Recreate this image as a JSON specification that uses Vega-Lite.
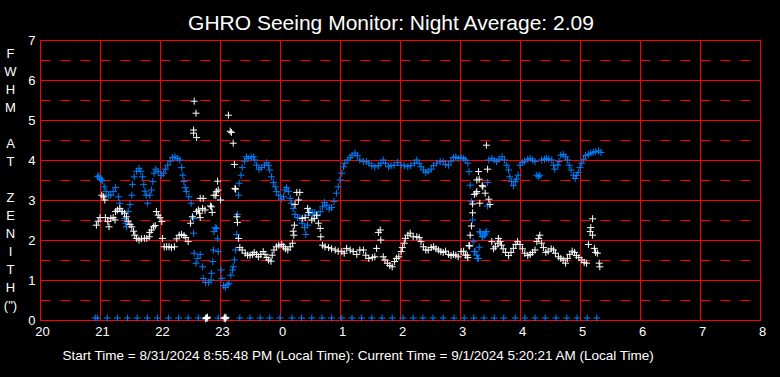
{
"$schema": "https://vega.github.io/schema/vega-lite/v6.json",
"width": 720, "height": 280,
"autosize": {"type": "none"},
"padding": {"left": 40, "top": 40, "right": 20, "bottom": 57},
"background": "#000000",
"config": {"view": {"stroke": "#FF0000", "strokeWidth": 1}, "font": "Liberation Sans"},
"title": {"text": "GHRO Seeing Monitor: Night Average: 2.09", "color": "#FFFFFF", "fontSize": 21, "fontWeight": "normal", "font": "Liberation Sans", "anchor": "middle", "frame": "group", "dx": -9, "dy": 21, "baseline": "alphabetic", "offset": 4},
"data": {"values": [
{"t":0.92,"v":0.05,"s":"b"},{"t":0.96,"v":0.05,"s":"b"},{"t":1.12,"v":0.05,"s":"b"},{"t":1.29,"v":0.05,"s":"b"},{"t":1.46,"v":0.05,"s":"b"},{"t":1.62,"v":0.05,"s":"b"},{"t":1.79,"v":0.05,"s":"b"},{"t":1.96,"v":0.05,"s":"b"},{"t":2.14,"v":0.05,"s":"b"},{"t":2.31,"v":0.05,"s":"b"},{"t":2.47,"v":0.05,"s":"b"},{"t":2.64,"v":0.05,"s":"b"},{"t":2.79,"v":0.05,"s":"b"},{"t":2.97,"v":0.05,"s":"b"},{"t":3.08,"v":0.05,"s":"b"},{"t":3.33,"v":0.05,"s":"b"},{"t":3.5,"v":0.05,"s":"b"},{"t":3.67,"v":0.05,"s":"b"},{"t":3.83,"v":0.05,"s":"b"},{"t":4.0,"v":0.05,"s":"b"},{"t":4.2,"v":0.05,"s":"b"},{"t":4.36,"v":0.05,"s":"b"},{"t":4.53,"v":0.05,"s":"b"},{"t":4.7,"v":0.05,"s":"b"},{"t":4.86,"v":0.05,"s":"b"},{"t":5.03,"v":0.05,"s":"b"},{"t":5.2,"v":0.05,"s":"b"},{"t":5.36,"v":0.05,"s":"b"},{"t":5.53,"v":0.05,"s":"b"},{"t":5.7,"v":0.05,"s":"b"},{"t":5.87,"v":0.05,"s":"b"},{"t":6.05,"v":0.05,"s":"b"},{"t":6.22,"v":0.05,"s":"b"},{"t":6.38,"v":0.05,"s":"b"},{"t":6.55,"v":0.05,"s":"b"},{"t":6.72,"v":0.05,"s":"b"},{"t":6.9,"v":0.05,"s":"b"},{"t":7.07,"v":0.05,"s":"b"},{"t":7.23,"v":0.05,"s":"b"},{"t":7.4,"v":0.05,"s":"b"},{"t":7.57,"v":0.05,"s":"b"},{"t":7.73,"v":0.05,"s":"b"},{"t":7.92,"v":0.05,"s":"b"},{"t":8.08,"v":0.05,"s":"b"},{"t":8.25,"v":0.05,"s":"b"},{"t":8.42,"v":0.05,"s":"b"},{"t":8.6,"v":0.05,"s":"b"},{"t":8.78,"v":0.05,"s":"b"},{"t":8.95,"v":0.05,"s":"b"},{"t":9.12,"v":0.05,"s":"b"},{"t":9.28,"v":0.05,"s":"b"},
{"t":0.96,"v":3.58,"s":"b"},{"t":0.98,"v":3.6,"s":"b"},{"t":1.0,"v":3.54,"s":"b"},{"t":1.02,"v":3.5,"s":"b"},{"t":1.04,"v":3.48,"s":"b"},{"t":1.07,"v":3.33,"s":"b"},{"t":1.1,"v":3.21,"s":"b"},{"t":1.14,"v":3.12,"s":"b"},{"t":1.18,"v":3.12,"s":"b"},{"t":1.22,"v":3.21,"s":"b"},{"t":1.26,"v":3.31,"s":"b"},{"t":1.31,"v":3.08,"s":"b"},{"t":1.33,"v":2.92,"s":"b"},{"t":1.36,"v":2.71,"s":"b"},{"t":1.41,"v":2.54,"s":"b"},{"t":1.43,"v":2.42,"s":"b"},{"t":1.44,"v":2.33,"s":"b"},{"t":1.47,"v":2.71,"s":"b"},{"t":1.5,"v":2.89,"s":"b"},{"t":1.53,"v":3.12,"s":"b"},{"t":1.54,"v":3.39,"s":"b"},{"t":1.57,"v":3.58,"s":"b"},{"t":1.61,"v":3.72,"s":"b"},{"t":1.65,"v":3.79,"s":"b"},{"t":1.68,"v":3.72,"s":"b"},{"t":1.71,"v":3.58,"s":"b"},{"t":1.73,"v":3.39,"s":"b"},{"t":1.75,"v":3.22,"s":"b"},{"t":1.77,"v":3.12,"s":"b"},{"t":1.79,"v":2.92,"s":"b"},{"t":1.83,"v":3.12,"s":"b"},{"t":1.86,"v":3.25,"s":"b"},{"t":1.88,"v":3.46,"s":"b"},{"t":1.9,"v":3.67,"s":"b"},{"t":1.93,"v":3.77,"s":"b"},{"t":1.97,"v":3.71,"s":"b"},{"t":2.02,"v":3.61,"s":"b"},{"t":2.06,"v":3.67,"s":"b"},{"t":2.09,"v":3.77,"s":"b"},{"t":2.13,"v":3.87,"s":"b"},{"t":2.17,"v":3.97,"s":"b"},{"t":2.21,"v":4.06,"s":"b"},{"t":2.25,"v":4.08,"s":"b"},{"t":2.29,"v":4.04,"s":"b"},{"t":2.33,"v":4.0,"s":"b"},{"t":2.36,"v":3.81,"s":"b"},{"t":2.38,"v":3.62,"s":"b"},{"t":2.4,"v":3.46,"s":"b"},{"t":2.42,"v":3.31,"s":"b"},{"t":2.44,"v":3.21,"s":"b"},{"t":2.48,"v":3.08,"s":"b"},{"t":2.52,"v":2.92,"s":"b"},{"t":2.56,"v":2.54,"s":"b"},{"t":2.56,"v":2.17,"s":"b"},{"t":2.57,"v":1.67,"s":"b"},{"t":2.6,"v":1.42,"s":"b"},{"t":2.63,"v":1.54,"s":"b"},{"t":2.67,"v":1.64,"s":"b"},{"t":2.71,"v":1.33,"s":"b"},{"t":2.72,"v":1.04,"s":"b"},{"t":2.76,"v":0.94,"s":"b"},{"t":2.81,"v":0.94,"s":"b"},{"t":2.85,"v":1.0,"s":"b"},{"t":2.86,"v":1.17,"s":"b"},{"t":2.88,"v":1.46,"s":"b"},{"t":2.89,"v":1.75,"s":"b"},{"t":2.9,"v":2.21,"s":"b"},{"t":2.92,"v":2.31,"s":"b"},{"t":2.94,"v":2.29,"s":"b"},{"t":2.96,"v":2.03,"s":"b"},{"t":2.97,"v":1.71,"s":"b"},{"t":3.02,"v":1.25,"s":"b"},{"t":3.03,"v":1.04,"s":"b"},{"t":3.06,"v":0.86,"s":"b"},{"t":3.09,"v":0.81,"s":"b"},{"t":3.13,"v":0.88,"s":"b"},{"t":3.15,"v":0.92,"s":"b"},{"t":3.18,"v":1.12,"s":"b"},{"t":3.21,"v":1.25,"s":"b"},{"t":3.22,"v":1.33,"s":"b"},{"t":3.24,"v":1.5,"s":"b"},{"t":3.26,"v":1.75,"s":"b"},{"t":3.28,"v":2.14,"s":"b"},{"t":3.29,"v":2.64,"s":"b"},{"t":3.31,"v":3.12,"s":"b"},{"t":3.32,"v":3.42,"s":"b"},{"t":3.35,"v":3.62,"s":"b"},{"t":3.37,"v":3.81,"s":"b"},{"t":3.41,"v":3.97,"s":"b"},{"t":3.44,"v":4.08,"s":"b"},{"t":3.47,"v":4.04,"s":"b"},{"t":3.52,"v":4.08,"s":"b"},{"t":3.56,"v":4.08,"s":"b"},{"t":3.58,"v":4.0,"s":"b"},{"t":3.61,"v":3.87,"s":"b"},{"t":3.65,"v":3.77,"s":"b"},{"t":3.69,"v":3.81,"s":"b"},{"t":3.74,"v":3.87,"s":"b"},{"t":3.78,"v":3.93,"s":"b"},{"t":3.81,"v":3.86,"s":"b"},{"t":3.83,"v":3.75,"s":"b"},{"t":3.86,"v":3.58,"s":"b"},{"t":3.89,"v":3.44,"s":"b"},{"t":3.92,"v":3.33,"s":"b"},{"t":3.94,"v":3.21,"s":"b"},{"t":3.98,"v":3.12,"s":"b"},{"t":4.02,"v":3.02,"s":"b"},{"t":4.06,"v":3.08,"s":"b"},{"t":4.08,"v":3.25,"s":"b"},{"t":4.11,"v":3.31,"s":"b"},{"t":4.14,"v":3.21,"s":"b"},{"t":4.17,"v":3.04,"s":"b"},{"t":4.19,"v":2.92,"s":"b"},{"t":4.22,"v":2.79,"s":"b"},{"t":4.25,"v":2.64,"s":"b"},{"t":4.29,"v":2.56,"s":"b"},{"t":4.33,"v":2.56,"s":"b"},{"t":4.37,"v":2.42,"s":"b"},{"t":4.41,"v":2.31,"s":"b"},{"t":4.43,"v":2.14,"s":"b"},{"t":4.46,"v":2.37,"s":"b"},{"t":4.47,"v":2.62,"s":"b"},{"t":4.5,"v":2.75,"s":"b"},{"t":4.54,"v":2.67,"s":"b"},{"t":4.58,"v":2.69,"s":"b"},{"t":4.63,"v":2.61,"s":"b"},{"t":4.67,"v":2.71,"s":"b"},{"t":4.71,"v":2.83,"s":"b"},{"t":4.74,"v":2.94,"s":"b"},{"t":4.78,"v":2.87,"s":"b"},{"t":4.82,"v":2.77,"s":"b"},{"t":4.86,"v":2.81,"s":"b"},{"t":4.9,"v":2.96,"s":"b"},{"t":4.94,"v":3.17,"s":"b"},{"t":4.97,"v":3.33,"s":"b"},{"t":5.0,"v":3.5,"s":"b"},{"t":5.03,"v":3.67,"s":"b"},{"t":5.06,"v":3.83,"s":"b"},{"t":5.08,"v":3.92,"s":"b"},{"t":5.13,"v":4.0,"s":"b"},{"t":5.17,"v":4.06,"s":"b"},{"t":5.2,"v":4.12,"s":"b"},{"t":5.25,"v":4.17,"s":"b"},{"t":5.29,"v":4.11,"s":"b"},{"t":5.33,"v":4.0,"s":"b"},{"t":5.39,"v":3.96,"s":"b"},{"t":5.44,"v":3.96,"s":"b"},{"t":5.48,"v":3.92,"s":"b"},{"t":5.53,"v":3.86,"s":"b"},{"t":5.58,"v":3.83,"s":"b"},{"t":5.64,"v":3.86,"s":"b"},{"t":5.68,"v":3.92,"s":"b"},{"t":5.72,"v":4.0,"s":"b"},{"t":5.76,"v":3.92,"s":"b"},{"t":5.81,"v":3.83,"s":"b"},{"t":5.85,"v":3.86,"s":"b"},{"t":5.9,"v":3.87,"s":"b"},{"t":5.96,"v":3.94,"s":"b"},{"t":6.02,"v":3.87,"s":"b"},{"t":6.07,"v":3.86,"s":"b"},{"t":6.13,"v":3.83,"s":"b"},{"t":6.18,"v":3.86,"s":"b"},{"t":6.24,"v":3.92,"s":"b"},{"t":6.28,"v":4.0,"s":"b"},{"t":6.32,"v":3.92,"s":"b"},{"t":6.35,"v":3.83,"s":"b"},{"t":6.39,"v":3.75,"s":"b"},{"t":6.43,"v":3.69,"s":"b"},{"t":6.47,"v":3.72,"s":"b"},{"t":6.52,"v":3.77,"s":"b"},{"t":6.56,"v":3.86,"s":"b"},{"t":6.61,"v":3.92,"s":"b"},{"t":6.67,"v":3.96,"s":"b"},{"t":6.72,"v":3.96,"s":"b"},{"t":6.76,"v":3.89,"s":"b"},{"t":6.81,"v":3.87,"s":"b"},{"t":6.85,"v":3.97,"s":"b"},{"t":6.89,"v":4.06,"s":"b"},{"t":6.93,"v":4.08,"s":"b"},{"t":6.97,"v":4.04,"s":"b"},{"t":7.02,"v":4.06,"s":"b"},{"t":7.06,"v":4.04,"s":"b"},{"t":7.09,"v":4.0,"s":"b"},{"t":7.13,"v":3.92,"s":"b"},{"t":7.15,"v":3.71,"s":"b"},{"t":7.17,"v":3.37,"s":"b"},{"t":7.19,"v":2.96,"s":"b"},{"t":7.21,"v":2.5,"s":"b"},{"t":7.22,"v":1.96,"s":"b"},{"t":7.24,"v":1.71,"s":"b"},{"t":7.25,"v":1.71,"s":"b"},{"t":7.28,"v":1.62,"s":"b"},{"t":7.29,"v":1.54,"s":"b"},{"t":7.31,"v":1.54,"s":"b"},{"t":7.32,"v":1.82,"s":"b"},{"t":7.33,"v":2.21,"s":"b"},{"t":7.34,"v":2.18,"s":"b"},{"t":7.37,"v":2.08,"s":"b"},{"t":7.38,"v":2.08,"s":"b"},{"t":7.41,"v":2.12,"s":"b"},{"t":7.42,"v":2.17,"s":"b"},{"t":7.44,"v":2.21,"s":"b"},{"t":7.46,"v":2.85,"s":"b"},{"t":7.46,"v":3.44,"s":"b"},{"t":7.48,"v":4.0,"s":"b"},{"t":7.53,"v":4.04,"s":"b"},{"t":7.57,"v":4.0,"s":"b"},{"t":7.61,"v":3.96,"s":"b"},{"t":7.65,"v":4.02,"s":"b"},{"t":7.7,"v":4.08,"s":"b"},{"t":7.74,"v":4.0,"s":"b"},{"t":7.78,"v":3.87,"s":"b"},{"t":7.81,"v":3.75,"s":"b"},{"t":7.83,"v":3.58,"s":"b"},{"t":7.86,"v":3.46,"s":"b"},{"t":7.89,"v":3.36,"s":"b"},{"t":7.92,"v":3.46,"s":"b"},{"t":7.94,"v":3.52,"s":"b"},{"t":7.97,"v":3.62,"s":"b"},{"t":8.0,"v":3.87,"s":"b"},{"t":8.04,"v":3.94,"s":"b"},{"t":8.08,"v":3.97,"s":"b"},{"t":8.13,"v":4.02,"s":"b"},{"t":8.17,"v":4.04,"s":"b"},{"t":8.21,"v":4.0,"s":"b"},{"t":8.25,"v":3.96,"s":"b"},{"t":8.28,"v":3.62,"s":"b"},{"t":8.31,"v":3.58,"s":"b"},{"t":8.33,"v":3.62,"s":"b"},{"t":8.36,"v":4.0,"s":"b"},{"t":8.41,"v":4.02,"s":"b"},{"t":8.44,"v":4.04,"s":"b"},{"t":8.48,"v":4.02,"s":"b"},{"t":8.53,"v":4.0,"s":"b"},{"t":8.56,"v":3.87,"s":"b"},{"t":8.58,"v":3.77,"s":"b"},{"t":8.63,"v":3.87,"s":"b"},{"t":8.65,"v":3.96,"s":"b"},{"t":8.68,"v":4.12,"s":"b"},{"t":8.72,"v":4.14,"s":"b"},{"t":8.76,"v":4.08,"s":"b"},{"t":8.79,"v":4.0,"s":"b"},{"t":8.82,"v":3.87,"s":"b"},{"t":8.85,"v":3.75,"s":"b"},{"t":8.89,"v":3.62,"s":"b"},{"t":8.92,"v":3.54,"s":"b"},{"t":8.94,"v":3.61,"s":"b"},{"t":8.97,"v":3.69,"s":"b"},{"t":9.0,"v":3.81,"s":"b"},{"t":9.03,"v":3.92,"s":"b"},{"t":9.06,"v":4.02,"s":"b"},{"t":9.09,"v":4.11,"s":"b"},{"t":9.14,"v":4.14,"s":"b"},{"t":9.18,"v":4.17,"s":"b"},{"t":9.22,"v":4.19,"s":"b"},{"t":9.26,"v":4.21,"s":"b"},{"t":9.31,"v":4.23,"s":"b"},{"t":9.35,"v":4.19,"s":"b"},
{"t":2.76,"v":0.03,"s":"w"},{"t":2.77,"v":0.06,"s":"w"},{"t":2.78,"v":0.04,"s":"w"},{"t":2.79,"v":0.07,"s":"w"},{"t":3.07,"v":0.04,"s":"w"},{"t":3.08,"v":0.07,"s":"w"},{"t":3.09,"v":0.03,"s":"w"},{"t":3.1,"v":0.06,"s":"w"},
{"t":0.94,"v":2.37,"s":"w"},{"t":0.97,"v":2.47,"s":"w"},{"t":1.0,"v":2.56,"s":"w"},{"t":1.03,"v":3.12,"s":"w"},{"t":1.06,"v":3.08,"s":"w"},{"t":1.08,"v":3.0,"s":"w"},{"t":1.09,"v":2.56,"s":"w"},{"t":1.13,"v":2.46,"s":"w"},{"t":1.15,"v":2.33,"s":"w"},{"t":1.18,"v":2.54,"s":"w"},{"t":1.22,"v":2.56,"s":"w"},{"t":1.25,"v":2.5,"s":"w"},{"t":1.26,"v":2.71,"s":"w"},{"t":1.29,"v":2.75,"s":"w"},{"t":1.33,"v":2.79,"s":"w"},{"t":1.37,"v":2.71,"s":"w"},{"t":1.41,"v":2.67,"s":"w"},{"t":1.44,"v":2.58,"s":"w"},{"t":1.47,"v":2.47,"s":"w"},{"t":1.5,"v":2.39,"s":"w"},{"t":1.53,"v":2.33,"s":"w"},{"t":1.56,"v":2.22,"s":"w"},{"t":1.58,"v":2.12,"s":"w"},{"t":1.61,"v":2.04,"s":"w"},{"t":1.65,"v":2.0,"s":"w"},{"t":1.69,"v":2.03,"s":"w"},{"t":1.74,"v":2.04,"s":"w"},{"t":1.78,"v":2.04,"s":"w"},{"t":1.82,"v":2.08,"s":"w"},{"t":1.83,"v":2.19,"s":"w"},{"t":1.86,"v":2.25,"s":"w"},{"t":1.89,"v":2.33,"s":"w"},{"t":1.92,"v":2.36,"s":"w"},{"t":1.94,"v":2.71,"s":"w"},{"t":1.97,"v":2.62,"s":"w"},{"t":2.0,"v":2.56,"s":"w"},{"t":2.03,"v":2.46,"s":"w"},{"t":2.04,"v":2.04,"s":"w"},{"t":2.07,"v":1.83,"s":"w"},{"t":2.11,"v":1.83,"s":"w"},{"t":2.15,"v":1.83,"s":"w"},{"t":2.19,"v":1.81,"s":"w"},{"t":2.24,"v":1.83,"s":"w"},{"t":2.28,"v":2.03,"s":"w"},{"t":2.32,"v":2.12,"s":"w"},{"t":2.36,"v":2.14,"s":"w"},{"t":2.4,"v":2.11,"s":"w"},{"t":2.43,"v":2.06,"s":"w"},{"t":2.47,"v":1.96,"s":"w"},{"t":2.51,"v":2.42,"s":"w"},{"t":2.54,"v":2.58,"s":"w"},{"t":2.56,"v":4.75,"s":"w"},{"t":2.56,"v":4.67,"s":"w"},{"t":2.57,"v":5.47,"s":"w"},{"t":2.6,"v":5.17,"s":"w"},{"t":2.61,"v":4.56,"s":"w"},{"t":2.61,"v":2.71,"s":"w"},{"t":2.64,"v":2.75,"s":"w"},{"t":2.66,"v":2.67,"s":"w"},{"t":2.67,"v":3.04,"s":"w"},{"t":2.67,"v":2.56,"s":"w"},{"t":2.71,"v":2.79,"s":"w"},{"t":2.72,"v":3.04,"s":"w"},{"t":2.75,"v":2.75,"s":"w"},{"t":2.84,"v":2.85,"s":"w"},{"t":2.86,"v":2.83,"s":"w"},{"t":2.87,"v":2.69,"s":"w"},{"t":2.9,"v":3.12,"s":"w"},{"t":2.93,"v":3.11,"s":"w"},{"t":2.94,"v":3.21,"s":"w"},{"t":2.96,"v":3.47,"s":"w"},{"t":2.97,"v":3.25,"s":"w"},{"t":3.01,"v":3.0,"s":"w"},{"t":3.14,"v":5.12,"s":"w"},{"t":3.17,"v":4.72,"s":"w"},{"t":3.19,"v":4.69,"s":"w"},{"t":3.22,"v":4.42,"s":"w"},{"t":3.24,"v":3.89,"s":"w"},{"t":3.25,"v":3.29,"s":"w"},{"t":3.26,"v":3.27,"s":"w"},{"t":3.28,"v":2.58,"s":"w"},{"t":3.29,"v":2.44,"s":"w"},{"t":3.31,"v":2.04,"s":"w"},
{"t":3.33,"v":1.81,"s":"w"},{"t":3.37,"v":1.75,"s":"w"},{"t":3.42,"v":1.67,"s":"w"},{"t":3.46,"v":1.62,"s":"w"},{"t":3.5,"v":1.62,"s":"w"},{"t":3.54,"v":1.64,"s":"w"},{"t":3.57,"v":1.69,"s":"w"},{"t":3.61,"v":1.64,"s":"w"},{"t":3.64,"v":1.58,"s":"w"},{"t":3.68,"v":1.64,"s":"w"},{"t":3.72,"v":1.71,"s":"w"},{"t":3.75,"v":1.64,"s":"w"},{"t":3.78,"v":1.56,"s":"w"},{"t":3.81,"v":1.5,"s":"w"},{"t":3.85,"v":1.47,"s":"w"},{"t":3.87,"v":1.62,"s":"w"},{"t":3.9,"v":1.75,"s":"w"},{"t":3.94,"v":1.83,"s":"w"},{"t":3.98,"v":1.87,"s":"w"},{"t":4.03,"v":1.89,"s":"w"},{"t":4.06,"v":1.83,"s":"w"},{"t":4.09,"v":1.78,"s":"w"},{"t":4.13,"v":1.75,"s":"w"},{"t":4.17,"v":1.83,"s":"w"},{"t":4.21,"v":1.92,"s":"w"},{"t":4.23,"v":2.12,"s":"w"},{"t":4.22,"v":2.22,"s":"w"},{"t":4.24,"v":2.37,"s":"w"},{"t":4.25,"v":2.89,"s":"w"},{"t":4.28,"v":3.19,"s":"w"},{"t":4.31,"v":3.0,"s":"w"},{"t":4.33,"v":3.19,"s":"w"},{"t":4.37,"v":2.54,"s":"w"},{"t":4.42,"v":2.56,"s":"w"},{"t":4.46,"v":2.79,"s":"w"},{"t":4.48,"v":2.69,"s":"w"},{"t":4.53,"v":2.5,"s":"w"},{"t":4.57,"v":2.54,"s":"w"},{"t":4.61,"v":2.62,"s":"w"},{"t":4.64,"v":2.42,"s":"w"},{"t":4.67,"v":2.29,"s":"w"},{"t":4.68,"v":2.08,"s":"w"},{"t":4.71,"v":1.87,"s":"w"},{"t":4.75,"v":1.83,"s":"w"},{"t":4.81,"v":1.81,"s":"w"},{"t":4.86,"v":1.78,"s":"w"},{"t":4.92,"v":1.75,"s":"w"},{"t":4.97,"v":1.72,"s":"w"},{"t":5.03,"v":1.71,"s":"w"},{"t":5.07,"v":1.67,"s":"w"},{"t":5.11,"v":1.79,"s":"w"},{"t":5.17,"v":1.75,"s":"w"},{"t":5.22,"v":1.71,"s":"w"},{"t":5.28,"v":1.64,"s":"w"},{"t":5.33,"v":1.75,"s":"w"},{"t":5.39,"v":1.75,"s":"w"},{"t":5.43,"v":1.62,"s":"w"},{"t":5.48,"v":1.54,"s":"w"},{"t":5.54,"v":1.56,"s":"w"},{"t":5.58,"v":1.58,"s":"w"},{"t":5.61,"v":1.79,"s":"w"},{"t":5.64,"v":2.19,"s":"w"},{"t":5.67,"v":2.25,"s":"w"},{"t":5.68,"v":2.0,"s":"w"},{"t":5.72,"v":1.58,"s":"w"},{"t":5.75,"v":1.5,"s":"w"},{"t":5.79,"v":1.42,"s":"w"},{"t":5.83,"v":1.36,"s":"w"},{"t":5.87,"v":1.33,"s":"w"},{"t":5.91,"v":1.46,"s":"w"},{"t":5.94,"v":1.54,"s":"w"},{"t":5.98,"v":1.58,"s":"w"},{"t":6.02,"v":1.71,"s":"w"},{"t":6.04,"v":1.81,"s":"w"},{"t":6.07,"v":1.92,"s":"w"},{"t":6.09,"v":2.04,"s":"w"},{"t":6.13,"v":2.12,"s":"w"},{"t":6.17,"v":2.17,"s":"w"},{"t":6.22,"v":2.08,"s":"w"},{"t":6.28,"v":2.08,"s":"w"},{"t":6.32,"v":2.06,"s":"w"},{"t":6.35,"v":1.96,"s":"w"},{"t":6.39,"v":1.83,"s":"w"},{"t":6.43,"v":1.75,"s":"w"},{"t":6.47,"v":1.75,"s":"w"},{"t":6.52,"v":1.81,"s":"w"},{"t":6.56,"v":1.83,"s":"w"},{"t":6.6,"v":1.78,"s":"w"},{"t":6.64,"v":1.75,"s":"w"},{"t":6.68,"v":1.71,"s":"w"},{"t":6.72,"v":1.69,"s":"w"},{"t":6.76,"v":1.72,"s":"w"},{"t":6.81,"v":1.64,"s":"w"},{"t":6.85,"v":1.61,"s":"w"},{"t":6.89,"v":1.64,"s":"w"},{"t":6.93,"v":1.62,"s":"w"},{"t":6.97,"v":1.58,"s":"w"},{"t":7.02,"v":1.71,"s":"w"},{"t":7.06,"v":1.72,"s":"w"},{"t":7.09,"v":1.62,"s":"w"},{"t":7.12,"v":1.62,"s":"w"},{"t":7.13,"v":1.56,"s":"w"},{"t":7.15,"v":1.86,"s":"w"},{"t":7.16,"v":1.85,"s":"w"},{"t":7.17,"v":2.12,"s":"w"},{"t":7.19,"v":2.35,"s":"w"},{"t":7.21,"v":2.68,"s":"w"},{"t":7.21,"v":2.9,"s":"w"},{"t":7.24,"v":3.14,"s":"w"},{"t":7.27,"v":3.17,"s":"w"},{"t":7.28,"v":3.5,"s":"w"},{"t":7.28,"v":3.21,"s":"w"},{"t":7.31,"v":3.71,"s":"w"},{"t":7.32,"v":3.52,"s":"w"},{"t":7.33,"v":2.92,"s":"w"},{"t":7.37,"v":3.36,"s":"w"},{"t":7.38,"v":3.33,"s":"w"},{"t":7.42,"v":3.17,"s":"w"},{"t":7.44,"v":4.37,"s":"w"},{"t":7.46,"v":3.77,"s":"w"},{"t":7.48,"v":3.02,"s":"w"},{"t":7.5,"v":2.89,"s":"w"},{"t":7.53,"v":1.96,"s":"w"},{"t":7.56,"v":1.78,"s":"w"},{"t":7.59,"v":1.83,"s":"w"},{"t":7.63,"v":1.92,"s":"w"},{"t":7.64,"v":2.04,"s":"w"},{"t":7.67,"v":1.96,"s":"w"},{"t":7.69,"v":1.87,"s":"w"},{"t":7.72,"v":1.78,"s":"w"},{"t":7.76,"v":1.69,"s":"w"},{"t":7.81,"v":1.61,"s":"w"},{"t":7.85,"v":1.69,"s":"w"},{"t":7.89,"v":1.79,"s":"w"},{"t":7.93,"v":1.89,"s":"w"},{"t":7.96,"v":1.96,"s":"w"},{"t":8.0,"v":1.89,"s":"w"},{"t":8.04,"v":1.78,"s":"w"},{"t":8.08,"v":1.67,"s":"w"},{"t":8.13,"v":1.61,"s":"w"},{"t":8.17,"v":1.64,"s":"w"},{"t":8.21,"v":1.69,"s":"w"},{"t":8.25,"v":1.75,"s":"w"},{"t":8.28,"v":1.96,"s":"w"},{"t":8.31,"v":2.04,"s":"w"},{"t":8.33,"v":2.12,"s":"w"},{"t":8.36,"v":1.92,"s":"w"},{"t":8.39,"v":1.81,"s":"w"},{"t":8.43,"v":1.69,"s":"w"},{"t":8.47,"v":1.72,"s":"w"},{"t":8.52,"v":1.78,"s":"w"},{"t":8.56,"v":1.75,"s":"w"},{"t":8.59,"v":1.67,"s":"w"},{"t":8.64,"v":1.58,"s":"w"},{"t":8.68,"v":1.54,"s":"w"},{"t":8.72,"v":1.5,"s":"w"},{"t":8.76,"v":1.42,"s":"w"},{"t":8.79,"v":1.54,"s":"w"},{"t":8.83,"v":1.64,"s":"w"},{"t":8.87,"v":1.72,"s":"w"},{"t":8.91,"v":1.69,"s":"w"},{"t":8.94,"v":1.61,"s":"w"},{"t":8.98,"v":1.56,"s":"w"},{"t":9.03,"v":1.5,"s":"w"},{"t":9.07,"v":1.44,"s":"w"},{"t":9.11,"v":1.42,"s":"w"},{"t":9.14,"v":1.89,"s":"w"},{"t":9.17,"v":2.21,"s":"w"},{"t":9.18,"v":2.31,"s":"w"},{"t":9.21,"v":2.53,"s":"w"},{"t":9.21,"v":2.12,"s":"w"},{"t":9.24,"v":1.79,"s":"w"},{"t":9.26,"v":1.69,"s":"w"},{"t":9.29,"v":1.67,"s":"w"},{"t":9.32,"v":1.42,"s":"w"},{"t":9.33,"v":1.33,"s":"w"}
]},
"mark": {"type": "point", "shape": "M-1,0H1M0,-1V1", "filled": false, "size": 49, "strokeWidth": 1, "opacity": 1},
"encoding": {
  "x": {"field": "t", "type": "quantitative",
    "scale": {"domain": [0, 12], "nice": false, "zero": false},
    "axis": {"values": [0,1,2,3,4,5,6,7,8,9,10,11,12], "labelExpr": "'' + ((datum.value + 20) % 24)",
      "grid": true, "gridColor": "#FF0000", "gridWidth": 1, "gridOpacity": 1,
      "ticks": false, "domain": false, "labelColor": "#FFFFFF", "labelFont": "Liberation Sans", "labelFontSize": 13,
      "labelPadding": 5, "labelOffset": 2, "labelFlush": false, "labelOverlap": false, "labelBound": false,
      "title": "Start Time = 8/31/2024 8:55:48 PM (Local Time): Current Time = 9/1/2024 5:20:21 AM (Local Time)",
      "titleColor": "#FFFFFF", "titleFont": "Liberation Sans", "titleFontSize": 13.5, "titleFontWeight": "normal",
      "titleX": 22, "titleY": 35, "titleAlign": "left", "titleAnchor": "start", "titleBaseline": "middle"}},
  "y": {"field": "v", "type": "quantitative",
    "scale": {"domain": [0, 7], "nice": false, "zero": false},
    "axis": {"values": [0,0.5,1,1.5,2,2.5,3,3.5,4,4.5,5,5.5,6,6.5,7],
      "labelExpr": "datum.value % 1 === 0 ? '' + datum.value : ''",
      "grid": true, "gridColor": "#FF0000", "gridWidth": 1, "gridOpacity": 1,
      "gridDash": {"condition": {"test": "datum.value % 1 !== 0", "value": [10, 10]}, "value": []},
      "ticks": false, "domain": false, "labelColor": "#FFFFFF", "labelFont": "Liberation Sans", "labelFontSize": 13,
      "labelPadding": 5, "labelFlush": false, "labelOverlap": false, "labelBound": false,
      "title": ["F","W","H","M","\u200b","A","T","\u200b","Z","E","N","I","T","H","(\")"],
      "titleColor": "#FFFFFF", "titleFont": "Liberation Sans", "titleFontSize": 13, "titleFontWeight": "normal",
      "titleAngle": 0, "titleX": -30, "titleY": 7, "titleAlign": "center", "titleBaseline": "top", "titleLineHeight": 18}},
  "color": {"field": "s", "type": "nominal", "scale": {"domain": ["b", "w"], "range": ["#0080FF", "#FFFFFF"]}, "legend": null}
}
}
